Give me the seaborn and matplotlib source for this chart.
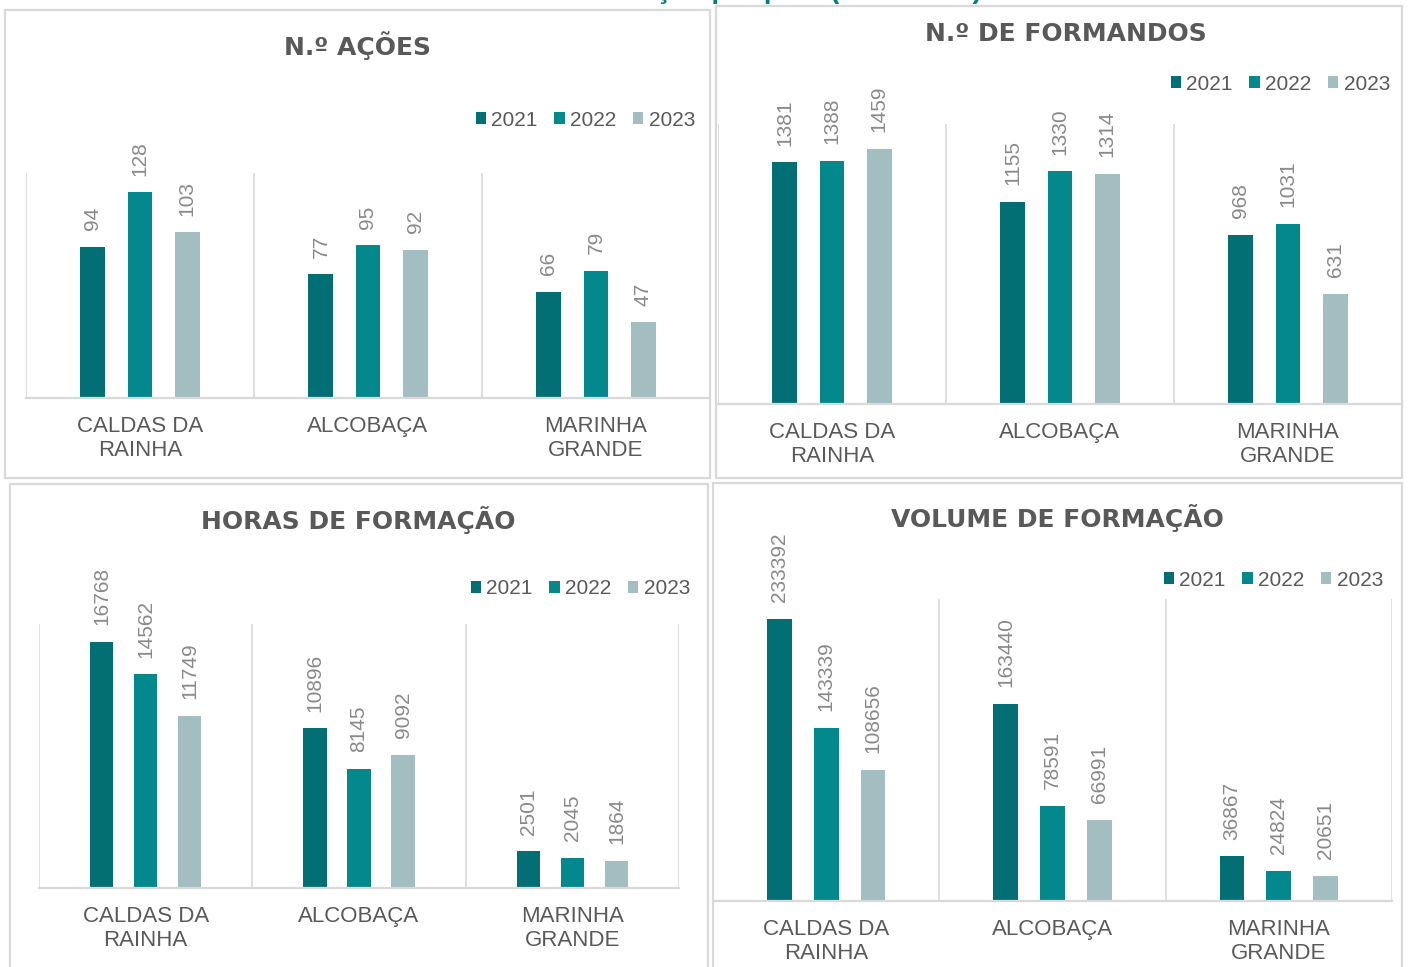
import matplotlib
matplotlib.use("Agg")
import matplotlib.pyplot as plt
from matplotlib.patches import Rectangle
import seaborn as sns
import pandas as pd

# ---------------- data ----------------
categories = ["CALDAS DA\nRAINHA", "ALCOBAÇA", "MARINHA\nGRANDE"]
years = ["2021", "2022", "2023"]

acoes_2021 = [94, 77, 66]
acoes_2022 = [128, 95, 79]
acoes_2023 = [103, 92, 47]

formandos_2021 = [1381, 1155, 968]
formandos_2022 = [1388, 1330, 1031]
formandos_2023 = [1459, 1314, 631]

horas_2021 = [16768, 10896, 2501]
horas_2022 = [14562, 8145, 2045]
horas_2023 = [11749, 9092, 1864]

volume_2021 = [233392, 163440, 36867]
volume_2022 = [143339, 78591, 24824]
volume_2023 = [108656, 66991, 20651]

titles = ["N.º AÇÕES", "N.º DE FORMANDOS", "HORAS DE FORMAÇÃO", "VOLUME DE FORMAÇÃO"]
header = "Formação por polo (2021-2023)"

colors = ["#026F74", "#03888D", "#A3BEC1"]

# ---------------- style ----------------
sns.set_style("white")
plt.rcParams["font.family"] = ["Liberation Sans", "DejaVu Sans"]

W, H = 1408, 967
fig = plt.figure(figsize=(W / 100, H / 100), dpi=100)
fig.patch.set_facecolor("white")


def fx(x):
    return x / W


def fy(y):
    return 1 - y / H


GRID = "#D9D9D9"
TXT = "#595959"
VAL = "#898989"

panels = [
    dict(series=[acoes_2021, acoes_2022, acoes_2023], title=titles[0],
         frame=(5, 10, 710, 478), axes=(26, 173, 710, 398), ymax=140,
         title_xy=(357, 46), leg=(695, 120)),
    dict(series=[formandos_2021, formandos_2022, formandos_2023], title=titles[1],
         frame=(716, 6, 1402, 478), axes=(718, 124, 1402, 404), ymax=1600,
         title_xy=(1066, 34), leg=(1390, 84)),
    dict(series=[horas_2021, horas_2022, horas_2023], title=titles[2],
         frame=(10, 484, 708, 980), axes=(39, 624, 679, 888), ymax=18000,
         title_xy=(358, 520), leg=(690, 589)),
    dict(series=[volume_2021, volume_2022, volume_2023], title=titles[3],
         frame=(713, 483, 1402, 980), axes=(713, 599, 1392, 901), ymax=250000,
         title_xy=(1057, 518), leg=(1383, 580)),
]

for p in panels:
    x0, y0, x1, y1 = p["frame"]
    fig.patches.append(Rectangle((fx(x0), fy(y1)), (x1 - x0) / W, (y1 - y0) / H,
                                 transform=fig.transFigure, fill=False,
                                 edgecolor=GRID, linewidth=1.6, zorder=0))

    l, t, r, b = p["axes"]
    ax = fig.add_axes([fx(l), fy(b), (r - l) / W, (b - t) / H])

    rows = []
    for yr, vals in zip(years, p["series"]):
        for c, v in zip(categories, vals):
            rows.append({"cat": c, "year": yr, "val": v})
    df = pd.DataFrame(rows)

    sns.barplot(data=df, x="cat", y="val", hue="year", order=categories,
                hue_order=years, palette=colors, width=0.62, gap=0.47,
                linewidth=0, saturation=1, ax=ax, errorbar=None)

    for cont in ax.containers:
        ax.bar_label(cont, labels=[f"{int(v)}" for v in cont.datavalues],
                     rotation=90, padding=12, fontsize=15, color=VAL)

    ax.set_xlim(-0.5, 2.5)
    ax.set_ylim(0, p["ymax"])
    for xv in [-0.5, 0.5, 1.5, 2.5]:
        ax.axvline(xv, color=GRID, linewidth=1.2, zorder=0)
    ax.set_xlabel("")
    ax.set_ylabel("")
    ax.set_yticks([])
    for s in ["top", "left", "right"]:
        ax.spines[s].set_visible(False)
    ax.spines["bottom"].set_color(GRID)
    ax.spines["bottom"].set_linewidth(1.6)
    ax.tick_params(axis="x", length=0, pad=13, labelsize=16, labelcolor=TXT)
    for lbl in ax.get_xticklabels():
        lbl.set_linespacing(1.2)
    ax.set_facecolor("none")

    handles, labels = ax.get_legend_handles_labels()
    ax.legend(handles, labels, loc="center right",
              bbox_to_anchor=(fx(p["leg"][0]), fy(p["leg"][1])),
              bbox_transform=fig.transFigure, ncol=3, frameon=False,
              fontsize=15, handlelength=0.5, handleheight=0.5,
              handletextpad=0.25, columnspacing=0.8, borderpad=0,
              borderaxespad=0, labelcolor=TXT)

    fig.text(fx(p["title_xy"][0]), fy(p["title_xy"][1]), p["title"],
             ha="center", va="center", fontsize=18, fontweight="bold",
             color=TXT, family=["DejaVu Sans"])

# cut-off page header at the very top (only its descenders show, as in the source)
fig.text(fx(982), fy(-2), header, ha="right", va="baseline", fontsize=20,
         fontweight="bold", color="#0A7C82")

fig.savefig("out.png", dpi=100, facecolor="white")
